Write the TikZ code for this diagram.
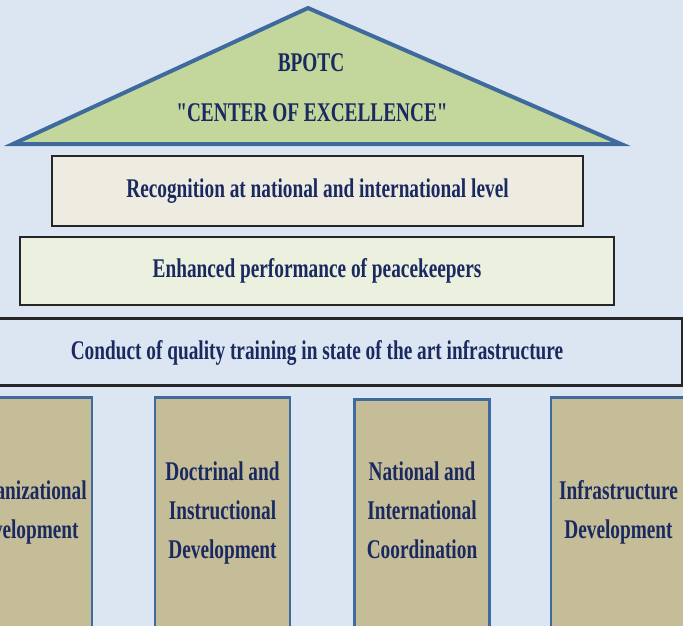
\documentclass[tikz,border=0pt]{standalone}
\usepackage{fontspec}
\setmainfont{Liberation Serif}[FakeStretch=0.715]
\newfontfamily\plainq{Liberation Serif}[FakeStretch=0.715]
\definecolor{bgc}{HTML}{DCE6F2}
\definecolor{roofc}{HTML}{C3D69B}
\definecolor{blueb}{HTML}{3E6A9E}
\definecolor{recc}{HTML}{EEECE1}
\definecolor{enhc}{HTML}{EBF1DE}
\definecolor{pilc}{HTML}{C4BD97}
\definecolor{navy}{HTML}{1A2A60}
\tikzset{
  txt/.style={text=navy, font=\bfseries\fontsize{27}{39}\selectfont, inner sep=0pt},
  bar/.style={draw=black!85, line width=2.6pt, txt},
  pillar/.style={draw=blueb, line width=2.6pt, fill=pilc, txt, align=center,
     minimum width=135pt, minimum height=231pt, anchor=north},
}
\begin{document}
\begin{tikzpicture}[x=1pt,y=-1pt]
\useasboundingbox (0,0) rectangle (683,626);
\clip (0,0) rectangle (683,626);
\fill[bgc] (0,0) rectangle (683,626);
% roof
\coordinate (apex) at (308,8);
\coordinate (bl) at (13,144);
\coordinate (br) at (621,144);
\draw[blueb, line width=4pt, fill=roofc, line join=miter] (apex) -- (br) -- (bl) -- cycle;
\node[txt] (t1) at (311,63) {BPOTC};
\node[txt] (t2) at (312,113) {\plainq\bfseries "CENTER OF EXCELLENCE"};
% bars
\node[bar, fill=recc, minimum width=531pt, minimum height=70pt] (rec) at (317.5,191) {Recognition at national and international level};
\node[bar, fill=enhc, minimum width=594pt, minimum height=68pt] (enh) at (317,271) {Enhanced performance of peacekeepers};
\node[bar, fill=bgc, minimum width=700pt, minimum height=67pt] (con) at (332,352) {};
\node[txt] (cont) at (317,353) {Conduct of quality training in state of the art infrastructure};
% pillars
\node[pillar] (p1) at (24.5,396) {Organizational\\Development};
\node[pillar] (p2) at (222.5,396) {Doctrinal and\\Instructional\\Development};
\node[pillar] (p3) at (422,398) {};
\node[txt, align=center] (p3t) at (422,510) {National and\\International\\Coordination};
\node[pillar] (p4) at (618.5,396) {Infrastructure\\Development};
\end{tikzpicture}
\end{document}
